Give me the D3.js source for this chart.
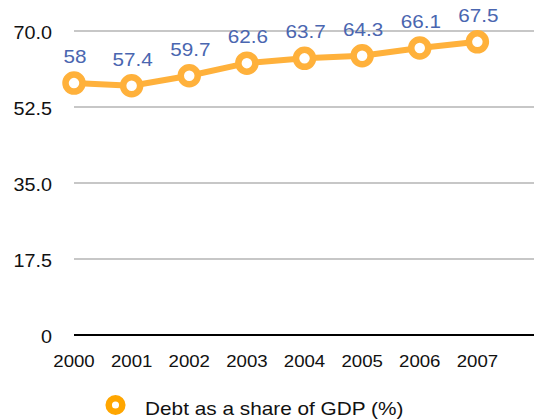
<!DOCTYPE html>
<html><head><meta charset="utf-8">
<script src="https://cdn.jsdelivr.net/npm/d3@7"></script>
<style>body{margin:0;background:#fff}svg{display:block}text{font-family:"Liberation Sans",Arial,Helvetica,sans-serif}</style>
</head><body><svg id="c" width="541" height="419"></svg>
<script>
const years = ["2000","2001","2002","2003","2004","2005","2006","2007"];
const debt = [58, 57.4, 59.7, 62.6, 63.7, 64.3, 66.1, 67.5];
const yTicks = [0, 17.5, 35, 52.5, 70];
const yTickLabels = ["0", "17.5", "35.0", "52.5", "70.0"];
const seriesName = "Debt as a share of GDP (%)";

(function () {
const svg = d3.select("#c");
const mLeft = 74, mRight = 535, mTop = 31, mBottom = 335;
const SX = 1.13;
const x = d3.scaleBand().domain(years).range([mLeft, mRight]).align(0);
const y = d3.scaleLinear().domain([0, 70]).range([mBottom, mTop]);
const px = d => x(d);

// gridlines
svg.append("g").selectAll("line").data(yTicks.filter(t => t > 0)).join("line")
  .attr("x1", mLeft).attr("x2", mRight - 1)
  .attr("y1", d => y(d)).attr("y2", d => y(d))
  .attr("stroke", "#b4b4b4").attr("stroke-width", 1.5);
// baseline
svg.append("line").attr("x1", mLeft).attr("x2", mRight - 1)
  .attr("y1", y(0)).attr("y2", y(0)).attr("stroke", "#000").attr("stroke-width", 2);

// y labels
svg.append("g").selectAll("g").data(yTicks).join("g")
  .attr("transform", d => `translate(52,${y(d) + 8}) scale(${SX},1)`)
  .append("text").attr("text-anchor", "end").attr("font-size", 17.5).attr("fill", "#111")
  .text((d, i) => yTickLabels[i]);

// x labels
svg.append("g").selectAll("g").data(years).join("g")
  .attr("transform", d => `translate(${px(d)},366.5) scale(${SX},1)`)
  .append("text").attr("text-anchor", "middle").attr("font-size", 16.5).attr("fill", "#111")
  .text(d => d);

const color = "#ffb13b";
const line = d3.line().x((d, i) => px(years[i])).y(d => y(d));
svg.append("path").datum(debt).attr("d", line)
  .attr("fill", "none").attr("stroke", color).attr("stroke-width", 6).attr("stroke-linejoin", "round");

svg.append("g").selectAll("circle").data(debt).join("circle")
  .attr("cx", (d, i) => px(years[i])).attr("cy", d => y(d)).attr("r", 8.5)
  .attr("fill", "#fff").attr("stroke", color).attr("stroke-width", 6.5);

svg.append("g").selectAll("g").data(debt).join("g")
  .attr("transform", (d, i) => `translate(${px(years[i]) + 1},${y(d) - 20}) scale(${SX},1)`)
  .append("text").attr("text-anchor", "middle").attr("font-size", 18.3).attr("fill", "#4a66b0")
  .text(d => String(d));

// legend
const lg = svg.append("g");
lg.append("circle").attr("cx", 115.5).attr("cy", 405).attr("r", 6.8)
  .attr("fill", "#fff").attr("stroke", "#ffa600").attr("stroke-width", 6.5);
lg.append("g").attr("transform", `translate(145,415) scale(${SX},1)`)
  .append("text").attr("font-size", 18.4).attr("fill", "#111").text(seriesName);
})();
</script></body></html>
